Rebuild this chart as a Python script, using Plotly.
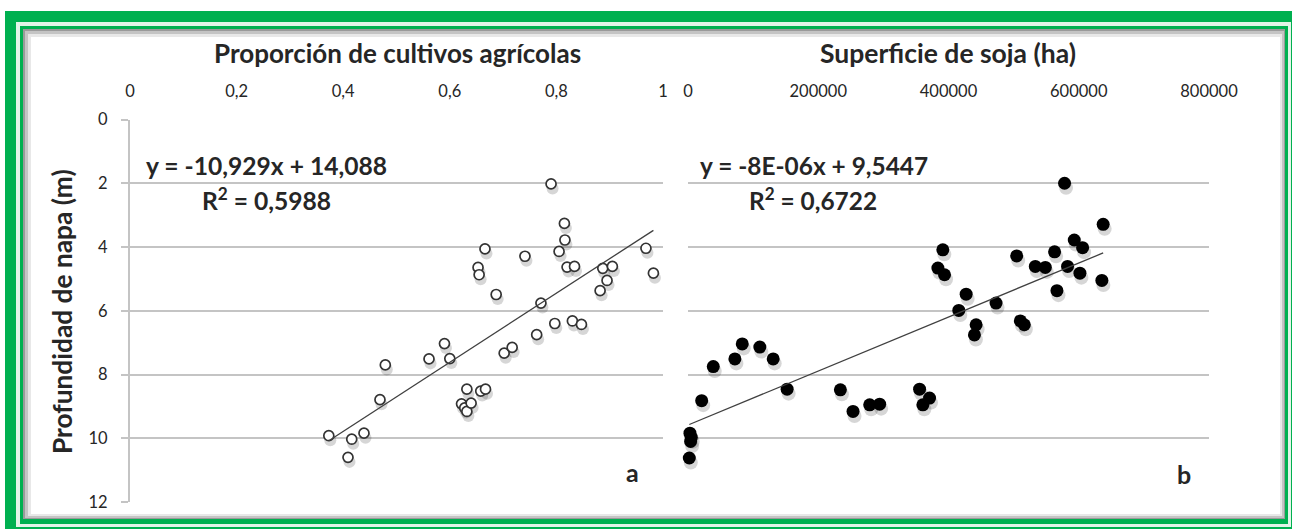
import numpy as np
import plotly.graph_objects as go

W, H = 1292, 529

# ---------------- data ----------------
prop_cultivos = [0.373, 0.409, 0.416, 0.439, 0.469, 0.479, 0.561, 0.590, 0.600, 0.622,
                 0.628, 0.632, 0.640, 0.632, 0.658, 0.667, 0.653, 0.655, 0.666, 0.687,
                 0.702, 0.717, 0.741, 0.763, 0.771, 0.790, 0.797, 0.805, 0.815, 0.816,
                 0.820, 0.830, 0.834, 0.847, 0.882, 0.887, 0.895, 0.905, 0.968, 0.982]
prof_a = [9.92, 10.60, 10.03, 9.84, 8.79, 7.70, 7.51, 7.03, 7.50, 8.92,
          9.05, 9.16, 8.90, 8.46, 8.52, 8.46, 4.64, 4.87, 4.06, 5.49,
          7.33, 7.15, 4.29, 6.75, 5.76, 2.02, 6.40, 4.14, 3.26, 3.78,
          4.63, 6.32, 4.61, 6.43, 5.37, 4.67, 5.05, 4.61, 4.04, 4.82]

sup_soja = [2000, 3000, 4000, 5000, 21000, 38800, 72000, 83300, 110300, 130800,
            152200, 234000, 253400, 279000, 294300, 355600, 360600, 370900, 383700, 391300,
            393900, 415800, 427100, 439800, 442400, 473000, 504700, 510300, 516400, 533300,
            548700, 562900, 566500, 578200, 582800, 593100, 601800, 605900, 635500, 637500]
prof_b = [10.62, 9.84, 10.10, 9.97, 8.82, 7.75, 7.51, 7.04, 7.14, 7.51,
          8.46, 8.48, 9.16, 8.95, 8.93, 8.46, 8.95, 8.74, 4.66, 4.09,
          4.87, 5.99, 5.48, 6.76, 6.44, 5.76, 4.28, 6.32, 6.44, 4.61,
          4.64, 4.15, 5.37, 2.00, 4.61, 3.78, 4.82, 4.02, 5.05, 3.29]

xa_ticks = [0, 0.2, 0.4, 0.6, 0.8, 1]
xa_text = ["0", "0,2", "0,4", "0,6", "0,8", "1"]
xb_ticks = [0, 200000, 400000, 600000, 800000]
xb_text = ["0", "200000", "400000", "600000", "800000"]
y_ticks = [0, 2, 4, 6, 8, 10, 12]
y_text = ["0", "2", "4", "6", "8", "10", "12"]

title_a = "Proporción de cultivos agrícolas"
title_b = "Superficie de soja (ha)"
title_y = "Profundidad de napa (m)"
eq_a = "y = -10,929x + 14,088"
r2_a = "R<sup>2</sup> = 0,5988"
eq_b = "y = -8E-06x + 9,5447"
r2_b = "R<sup>2</sup> = 0,6722"

# ---------------- helpers ----------------
def px(x):
    return x / W

def py(y):
    return 1 - y / H

FONT = "Lato"
TXT = "#262626"
GRID = "#c4c4c4"

XA = [px(130), px(663)]
XB = [px(688), px(1209)]
YD = [py(502), py(119.5)]
DX, DY = 1.5, 4.5
XA_S = [px(130 + DX), px(663 + DX)]
XB_S = [px(688 + DX), px(1209 + DX)]
YD_S = [py(502 + DY), py(119.5 + DY)]

# trend lines (least squares, like the spreadsheet trendline)
ka, ba = np.polyfit(prop_cultivos, prof_a, 1)
kb, bb = np.polyfit(sup_soja, prof_b, 1)
ta_x = [min(prop_cultivos), max(prop_cultivos)]
ta_y = [ka * v + ba for v in ta_x]
tb_x = [min(sup_soja), max(sup_soja)]
tb_y = [kb * v + bb for v in tb_x]

fig = go.Figure()

# empty traces so that the visible axes (grid, ticks) are drawn
fig.add_trace(go.Scatter(x=[None], y=[None], mode="markers", xaxis="x", yaxis="y",
                         hoverinfo="skip", showlegend=False))
fig.add_trace(go.Scatter(x=[None], y=[None], mode="markers", xaxis="x2", yaxis="y2",
                         hoverinfo="skip", showlegend=False))
# shadows
fig.add_trace(go.Scatter(x=prop_cultivos, y=prof_a, mode="markers", xaxis="x3", yaxis="y3",
                         marker=dict(size=12, color="rgba(0,0,0,0.16)", line=dict(width=0)),
                         cliponaxis=False, hoverinfo="skip", showlegend=False))
fig.add_trace(go.Scatter(x=sup_soja, y=prof_b, mode="markers", xaxis="x4", yaxis="y4",
                         marker=dict(size=14, color="rgba(0,0,0,0.16)", line=dict(width=0)),
                         cliponaxis=False, hoverinfo="skip", showlegend=False))
# main markers + trend lines
fig.add_trace(go.Scatter(x=prop_cultivos, y=prof_a, mode="markers", xaxis="x5", yaxis="y5",
                         marker=dict(size=10, color="white", line=dict(width=1.7, color="#333333")),
                         cliponaxis=False, showlegend=False))
fig.add_trace(go.Scatter(x=ta_x, y=ta_y, mode="lines", xaxis="x5", yaxis="y5",
                         line=dict(color="#404040", width=1.3), cliponaxis=False, showlegend=False))
fig.add_trace(go.Scatter(x=sup_soja, y=prof_b, mode="markers", xaxis="x6", yaxis="y6",
                         marker=dict(size=13, color="#000000", line=dict(width=0)),
                         cliponaxis=False, showlegend=False))
fig.add_trace(go.Scatter(x=tb_x, y=tb_y, mode="lines", xaxis="x6", yaxis="y6",
                         line=dict(color="#404040", width=1.3), cliponaxis=False, showlegend=False))

tickfont = dict(family=FONT, size=16.5, color=TXT)
common_x = dict(side="top", showgrid=False, zeroline=False, showline=False, ticks="",
                tickfont=tickfont, ticklabelstandoff=18, automargin=False)
common_y = dict(range=[12, 0], tickvals=y_ticks, showgrid=True, gridcolor=GRID, gridwidth=1.8,
                zeroline=False, automargin=False)
hidden = dict(visible=False, showgrid=False, zeroline=False, automargin=False)

fig.update_layout(
    width=W, height=H, margin=dict(l=0, r=0, t=0, b=0, autoexpand=False),
    paper_bgcolor="white", plot_bgcolor="rgba(0,0,0,0)",
    showlegend=False,
    xaxis=dict(domain=XA, range=[0, 1], anchor="y", tickvals=xa_ticks, ticktext=xa_text, **common_x),
    yaxis=dict(domain=YD, anchor="x", ticktext=y_text, showline=True, linecolor=GRID, linewidth=2,
               ticks="outside", ticklen=7, tickwidth=2, tickcolor=GRID, tickfont=tickfont,
               ticklabelstandoff=10, **common_y),
    xaxis2=dict(domain=XB, range=[0, 800000], anchor="y2", tickvals=xb_ticks, ticktext=xb_text, **common_x),
    yaxis2=dict(domain=YD, anchor="x2", showticklabels=False, showline=False, ticks="", **common_y),
    xaxis3=dict(domain=XA_S, range=[0, 1], anchor="y3", **hidden),
    yaxis3=dict(domain=YD_S, range=[12, 0], anchor="x3", **hidden),
    xaxis4=dict(domain=XB_S, range=[0, 800000], anchor="y4", **hidden),
    yaxis4=dict(domain=YD_S, range=[12, 0], anchor="x4", **hidden),
    xaxis5=dict(domain=XA, range=[0, 1], anchor="y5", **hidden),
    yaxis5=dict(domain=YD, range=[12, 0], anchor="x5", **hidden),
    xaxis6=dict(domain=XB, range=[0, 800000], anchor="y6", **hidden),
    yaxis6=dict(domain=YD, range=[12, 0], anchor="x6", **hidden),
)

# frame
GREEN = "#00b050"
def rect(x0, y0, x1, y1, color):
    return dict(type="rect", xref="paper", yref="paper", layer="below",
                x0=px(x0), x1=px(x1), y0=py(y1), y1=py(y0),
                fillcolor=color, line=dict(width=0))

fig.update_layout(shapes=[
    rect(5, 11, 1300, 540, GREEN),
    rect(16, 22, 1291, 527, "#e3f4e8"),
    rect(20, 26, 1288, 524, GREEN),
    rect(23, 29, 1285, 519, "#9a9a9a"),
    rect(25, 31, 1284, 518, "#c4c4c4"),
    rect(28, 34, 1282, 516, "#e8e8e8"),
    rect(31, 37, 1280, 514, "#ffffff"),
])

def ann(text, x, y, size, **kw):
    fig.add_annotation(text=text, xref="paper", yref="paper", x=px(x), y=py(y),
                       xanchor="center", yanchor="middle", showarrow=False,
                       font=dict(family=FONT, size=size, color=TXT), **kw)

ann("<b>%s</b>" % title_a, 397, 53, 26)
ann("<b>%s</b>" % title_b, 948, 53, 26.5)
ann("<b>%s</b>" % title_y, 62, 312, 26.3, textangle=-90)
ann("<b>%s</b>" % eq_a, 266, 165, 24.6)
ann("<b>%s</b>" % r2_a, 266, 199, 24.6)
ann("<b>%s</b>" % eq_b, 814, 165, 24.4)
ann("<b>%s</b>" % r2_b, 813, 199, 24.4)
ann("<b>a</b>", 632, 472, 25)
ann("<b>b</b>", 1184, 474, 25)

fig.write_html("out.html", config={"displayModeBar": False},
               post_script="document.body.style.margin='0';")
